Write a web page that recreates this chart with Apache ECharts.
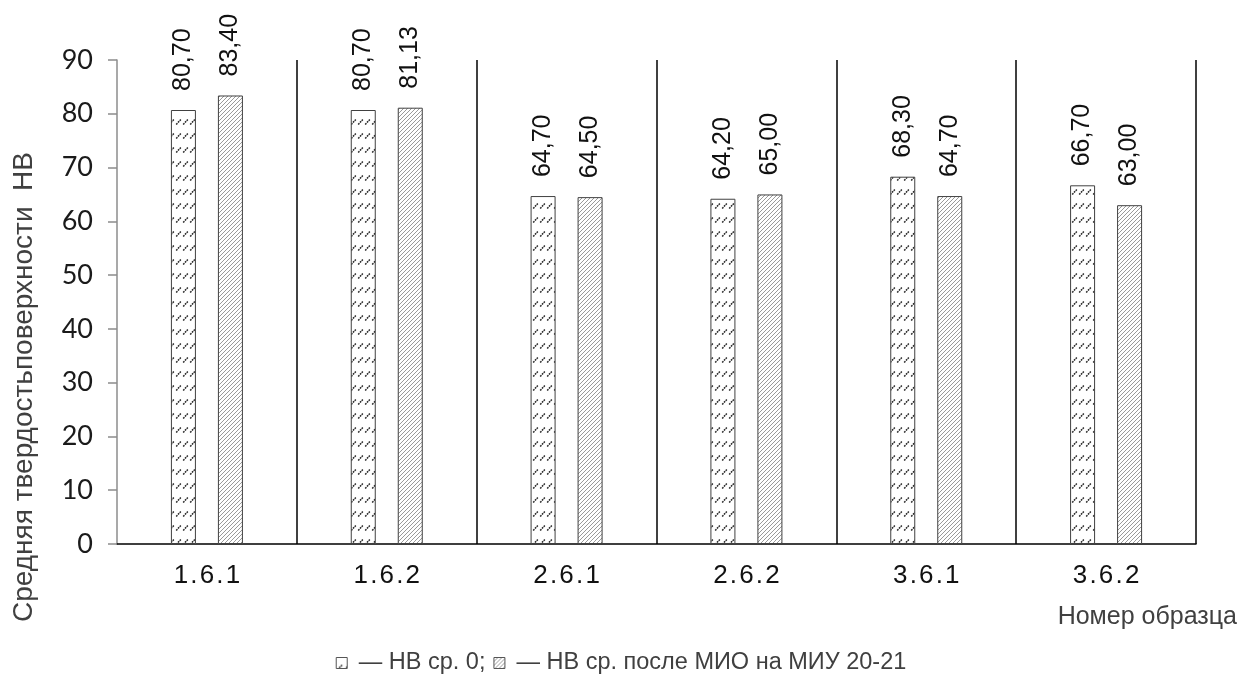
<!DOCTYPE html>
<html>
<head>
<meta charset="utf-8">
<script src="https://cdn.jsdelivr.net/npm/echarts@6/dist/echarts.min.js"></script>
<style>
  html, body { margin: 0; padding: 0; background: #fff; }
  #chart { width: 1242px; height: 688px; }
</style>
</head>
<body>
<div id="chart"></div>
<script>
// Sample numbers along the category axis
const categories = ['1.6.1', '1.6.2', '2.6.1', '2.6.2', '3.6.1', '3.6.2'];
// Mean surface hardness, HB
const seriesNames = ['НВ ср. 0', 'НВ ср. после МИО на МИУ 20-21'];
const hbBefore = [80.70, 80.70, 64.70, 64.20, 68.30, 66.70];
const hbAfter = [83.40, 81.13, 64.50, 65.00, 64.70, 63.00];
const yTicks = { min: 0, max: 90, step: 10 };

// Hatch fills for the bars
function dashPattern() {
  const c = document.createElement('canvas');
  c.width = 7; c.height = 14;
  const g = c.getContext('2d');
  g.fillStyle = '#fff';
  g.fillRect(0, 0, c.width, c.height);
  g.strokeStyle = '#222';
  g.lineWidth = 1.5;
  g.setLineDash([1.8, 0.8]);
  g.beginPath();
  g.moveTo(1.2, 12.5);
  g.lineTo(5.8, 7.5);
  g.stroke();
  return { image: c, repeat: 'repeat' };
}
function linePattern() {
  const c = document.createElement('canvas');
  c.width = 4; c.height = 4;
  const g = c.getContext('2d');
  g.fillStyle = '#fff';
  g.fillRect(0, 0, 4, 4);
  g.strokeStyle = '#9a9a9a';
  g.lineWidth = 1;
  g.beginPath();
  g.moveTo(-1, 5); g.lineTo(5, -1);
  g.moveTo(-1, 1); g.lineTo(1, -1);
  g.moveTo(3, 5); g.lineTo(5, 3);
  g.stroke();
  return { image: c, repeat: 'repeat' };
}

const fills = [dashPattern(), linePattern()];
const fmtValue = v => v.toFixed(2).replace('.', ',');

function barSeries(name, values, fill) {
  return {
    name: name,
    type: 'bar',
    data: values,
    barWidth: 25,
    barGap: '88%',
    itemStyle: { color: fill, borderColor: '#404040', borderWidth: 1 },
    label: {
      show: true,
      position: 'top',
      rotate: 90,
      align: 'left',
      verticalAlign: 'middle',
      distance: 19,
      fontFamily: 'Liberation Sans, Arial, sans-serif',
      fontSize: 25,
      color: '#111',
      formatter: p => fmtValue(p.value)
    }
  };
}

const chart = echarts.init(document.getElementById('chart'), null, { renderer: 'canvas' });
chart.setOption({
  animation: false,
  backgroundColor: '#fff',
  grid: { left: 117, right: 46, top: 60, bottom: 144, containLabel: false },
  xAxis: {
    type: 'category',
    data: categories,
    axisLine: { show: true, lineStyle: { color: '#000', width: 1.5 } },
    axisTick: { show: false },
    axisLabel: {
      margin: 19,
      fontFamily: 'Liberation Sans, Arial, sans-serif',
      fontSize: 26,
      color: '#111',
      formatter: v => v.split('').join('\u200A')
    },
    splitLine: {
      show: true,
      showMinLine: false,
      lineStyle: { color: '#000', width: 1.5 }
    }
  },
  yAxis: {
    type: 'value',
    min: yTicks.min,
    max: yTicks.max,
    interval: yTicks.step,
    axisLine: { show: true, lineStyle: { color: '#8c8c8c', width: 1.5 } },
    axisTick: { show: true, inside: false, length: 9, lineStyle: { color: '#8c8c8c', width: 1.5 } },
    axisLabel: {
      margin: 24,
      fontFamily: 'Lato, Open Sans, sans-serif',
      fontSize: 27,
      color: '#1a1a1a'
    },
    splitLine: { show: false }
  },
  legend: {
    show: true,
    left: 'center',
    top: 646,
    itemWidth: 11,
    itemHeight: 11,
    itemGap: 8,
    icon: 'rect',
    textStyle: {
      fontFamily: 'Liberation Sans, Arial, sans-serif',
      fontSize: 23.5,
      color: '#404040'
    },
    formatter: name => ' — ' + name + (name === seriesNames[0] ? ';' : ''),
    data: seriesNames.map((n, i) => ({
      name: n,
      itemStyle: { color: fills[i], borderColor: '#555', borderWidth: 1 }
    }))
  },
  graphic: [
    {
      type: 'text',
      x: 24,
      y: 387,
      rotation: Math.PI / 2,
      style: {
        text: 'Средняя твердостьповерхности  НВ',
        fontFamily: 'Liberation Sans, Arial, sans-serif',
        fontSize: 28,
        fill: '#404040',
        align: 'center',
        verticalAlign: 'middle'
      }
    },
    {
      type: 'text',
      right: 5,
      top: 605,
      style: {
        text: 'Номер образца',
        fontFamily: 'Liberation Sans, Arial, sans-serif',
        fontSize: 25,
        fill: '#404040'
      }
    }
  ],
  series: [
    barSeries(seriesNames[0], hbBefore, fills[0]),
    barSeries(seriesNames[1], hbAfter, fills[1])
  ]
});
</script>
</body>
</html>
